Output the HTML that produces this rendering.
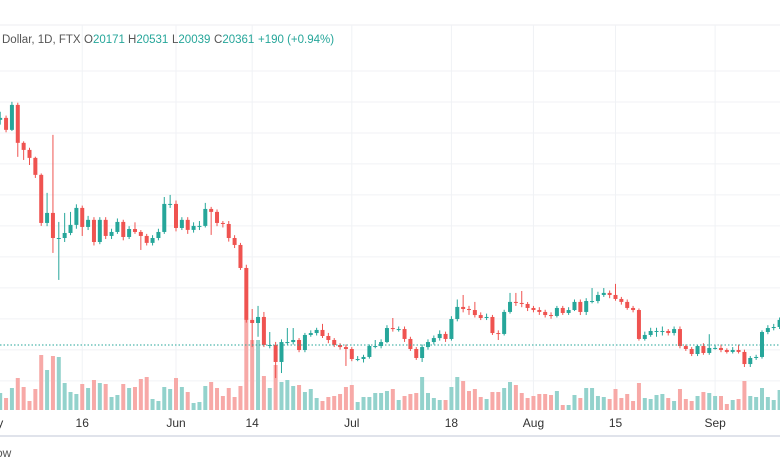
<!DOCTYPE html>
<html><head><meta charset="utf-8"><style>
html,body{margin:0;padding:0;background:#fff;width:780px;height:470px;overflow:hidden;font-family:"Liberation Sans",sans-serif}
svg{display:block}
</style></head><body>
<svg id="chart" width="780" height="470" xmlns="http://www.w3.org/2000/svg">
<line x1="0" y1="25" x2="780" y2="25" stroke="#eceef2"/>
<g id="grid"></g>
<g id="vols"></g>
<g id="candles"></g>
<line id="lastline" x1="0" x2="780" stroke="#26a69a" stroke-dasharray="1.5,2"/>
<text y="43" font-size="11.5" fill="#555"><tspan x="2">Dollar, 1D, FTX</tspan><tspan x="84">O</tspan><tspan fill="#26a69a">20171</tspan><tspan x="128">H</tspan><tspan fill="#26a69a">20531</tspan><tspan x="172">L</tspan><tspan fill="#26a69a">20039</tspan><tspan x="214">C</tspan><tspan fill="#26a69a">20361</tspan><tspan x="258" fill="#26a69a">+190 (+0.94%)</tspan></text>
<g id="xlabels"></g>
<line x1="0" y1="436" x2="780" y2="436" stroke="#e0e3eb" stroke-width="2"/>
<text x="-4" y="457" font-size="12" fill="#555">ow</text>
</svg>
<script>
const closes=[38.02,37.09,39.03,36.08,35.53,34.91,33.59,29.85,30.63,28.68,28.68,29.07,29.70,31.02,29.54,30.09,28.37,30.09,28.84,29.15,29.93,28.76,29.38,29.15,28.84,28.30,28.68,29.15,31.33,31.33,29.46,30.09,29.31,29.62,29.62,30.94,30.71,29.85,29.77,28.68,28.14,26.35,22.31,22.07,22.54,20.36,20.36,19.04,20.59,20.59,20.75,19.97,21.14,21.29,21.53,21.06,20.75,20.36,20.20,20.05,19.27,19.27,19.43,20.28,20.28,20.59,21.68,21.60,21.60,20.83,20.05,19.35,20.20,20.59,20.90,21.22,20.83,22.38,23.32,23.16,23.08,22.69,22.46,22.54,21.29,21.22,22.93,23.71,23.63,23.55,23.24,23.08,22.93,22.69,22.62,23.24,22.85,23.08,23.71,22.93,23.78,23.78,24.25,24.41,24.25,23.94,23.71,23.24,23.08,20.83,21.14,21.45,21.45,21.45,21.29,21.60,20.28,20.05,19.66,20.28,19.74,20.13,20.13,19.97,19.82,19.97,19.82,18.88,19.35,19.43,21.37,21.68,21.76,22.31];
const firstOpen=37.87;
const highs=[38.5,38.2,39.27,39.2,36.2,35.7,35.0,33.7,32.19,36.70,29.93,30.63,30.71,31.3,31.2,30.4,30.3,30.3,30.3,29.4,30.2,30.1,29.6,29.9,29.3,29.0,28.9,29.4,31.87,32.03,31.6,30.3,30.3,29.9,30.0,31.41,31.1,30.9,30.0,30.0,28.9,28.3,26.6,23.16,23.4,22.93,21.37,20.6,20.8,21.68,21.68,20.9,21.3,21.5,21.7,22.0,21.3,20.9,20.5,20.4,20.2,19.5,19.6,20.4,20.75,20.8,21.9,22.46,21.8,21.8,21.0,20.2,20.4,20.8,21.1,21.5,21.4,22.6,23.9,24.25,23.4,23.71,22.9,22.8,22.7,21.5,23.1,24.41,24.41,24.56,23.7,23.4,23.3,23.1,22.9,23.4,23.4,23.3,23.9,23.9,24.0,24.79,24.5,24.79,24.6,25.11,24.1,23.9,23.4,23.2,21.4,21.7,21.7,21.8,21.6,21.8,21.8,20.4,20.2,20.4,20.5,21.2,20.4,20.4,20.1,20.2,20.4,20.0,19.5,19.6,21.5,21.9,22.0,22.5];
const lows=[37.5,36.9,37.0,34.99,34.75,34.36,33.35,29.62,29.6,27.52,25.42,28.37,28.9,29.4,28.84,29.3,28.1,28.2,28.6,28.6,29.0,28.5,28.6,29.0,27.75,28.1,28.1,28.5,29.0,31.02,29.2,29.3,29.0,29.1,29.3,29.5,28.92,29.6,29.5,28.4,27.9,26.2,22.1,20.20,21.0,20.2,20.1,17.79,18.18,20.4,20.4,19.8,19.8,21.0,21.1,20.9,20.5,20.2,20.0,18.73,19.1,19.1,19.0,19.3,20.1,20.1,20.5,21.4,21.4,20.6,19.9,19.2,19.04,20.0,20.4,20.7,20.6,20.7,22.2,22.9,22.7,22.5,22.3,22.3,21.14,20.75,21.1,22.8,23.4,23.3,23.0,22.9,22.7,22.5,22.4,22.5,22.7,22.7,23.0,22.69,22.69,23.6,23.6,24.1,24.0,23.8,23.5,23.1,22.9,20.7,20.7,21.0,21.0,21.1,21.1,21.1,20.1,19.9,19.5,19.5,19.6,19.6,20.0,19.8,19.7,19.7,19.7,18.65,18.65,19.2,19.3,21.2,21.5,21.6];
const volumes=[17,12,22,32,23,9,21,55,40,54,53,27,18,16,26,22,30,27,26,13,15,26,22,23,31,33,11,9,23,21,32,23,18,7,8,24,28,22,14,22,13,24,90,70,70,34,22,45,28,30,24,25,18,21,12,9,13,14,16,23,25,8,13,13,17,17,19,21,10,14,16,17,33,17,12,10,10,23,33,29,19,21,13,11,18,18,22,28,25,17,12,14,16,16,15,19,5,5,15,12,22,22,14,13,11,21,12,16,9,27,12,11,15,16,12,9,21,11,9,14,18,17,14,14,6,10,11,29,14,13,22,13,10,20];
const lastPrice=20.36;
const gridLevels=[41.67,39.26,36.85,34.44,32.03,29.62,27.21,24.80,22.39,19.98,17.57];
const dayLabels=["y","16","Jun","14","Jul","18","Aug","15","Sep"];
const dayIndex=[0,14,30,43,60,77,91,105,122];

const NS="http://www.w3.org/2000/svg";
const xS=i=>176+(i-30)*5.86;
const yS=p=>345-(p-20.36)*12.86;
const vS=v=>410-v;
const GREEN="#26a69a",RED="#ef5350",GV="#93d2cc",RV="#f7a9a7";
function mk(tag,attrs,parent){const e=document.createElementNS(NS,tag);for(const k in attrs)e.setAttribute(k,attrs[k]);parent.appendChild(e);return e;}
const grid=document.getElementById('grid');
gridLevels.forEach(p=>{const l=mk('line',{x1:0,x2:780,y1:yS(p),y2:yS(p),stroke:'#f0f2f5'},grid);

});
dayIndex.forEach((d,k)=>{if(k===0)return;const l=mk('line',{x1:xS(d),x2:xS(d),y1:25,y2:410,stroke:'#f0f2f5'},grid);

});
const xl=document.getElementById('xlabels');
dayLabels.forEach((t,k)=>{const e=mk('text',{x:xS(dayIndex[k]),y:427,'font-size':12,fill:'#333','text-anchor':'middle'},xl);e.textContent=t;

});
const vg=document.getElementById('vols'),cg=document.getElementById('candles');
closes.forEach((c,i)=>{
 const o=i===0?firstOpen:closes[i-1];
 const up=c>=o;const x=xS(i);
 const vb=mk('rect',{x:x-2,y:vS(volumes[i]),width:4,height:410-vS(volumes[i]),fill:up?GV:RV},vg);
 
 
 const col=up?GREEN:RED;
 const w=mk('line',{x1:x,x2:x,y1:yS(highs[i]),y2:yS(lows[i]),stroke:col,'stroke-width':1},cg);
 
 
 const top=Math.min(yS(o),yS(c));const h=Math.max(1,Math.abs(yS(o)-yS(c)));
 const b=mk('rect',{x:x-2,y:top,width:4,height:h,fill:col},cg);
 
 
});
const ll=document.getElementById('lastline');ll.setAttribute('y1',yS(lastPrice));ll.setAttribute('y2',yS(lastPrice));
</script>
</body></html>
